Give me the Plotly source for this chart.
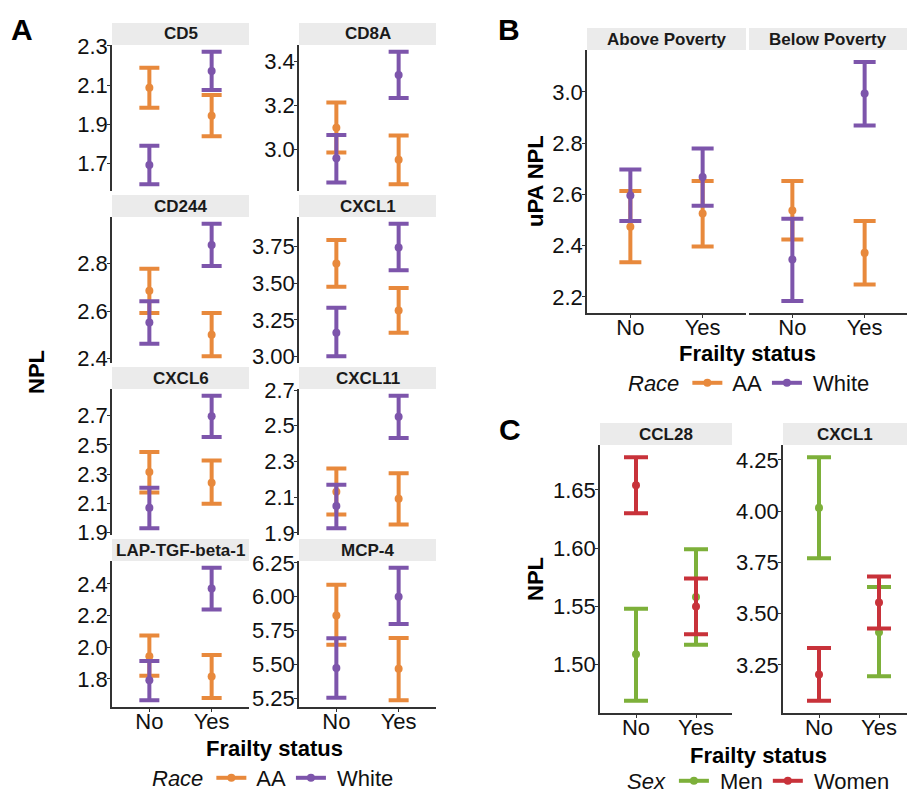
import plotly.graph_objects as go

# ---------------- DATA ----------------
frailty = ["No", "Yes"]

# Panel A : proteins by race (values for [No, Yes])
a_proteins = ["CD5", "CD8A", "CD244", "CXCL1", "CXCL6", "CXCL11", "LAP-TGF-beta-1", "MCP-4"]
a_aa_mean = [[2.086, 1.943], [3.099, 2.953], [2.685, 2.501], [3.635, 3.314],
             [2.314, 2.241], [2.130, 2.091], [1.943, 1.815], [5.861, 5.469]]
a_aa_low = [[1.984, 1.837], [2.986, 2.841], [2.592, 2.410], [3.477, 3.161],
            [2.175, 2.098], [2.003, 1.947], [1.821, 1.680], [5.646, 5.235]]
a_aa_high = [[2.189, 2.049], [3.214, 3.064], [2.778, 2.592], [3.796, 3.468],
             [2.452, 2.393], [2.260, 2.234], [2.074, 1.952], [6.089, 5.696]]
a_wh_mean = [[1.690, 2.172], [2.960, 3.339], [2.552, 2.877], [3.161, 3.745],
             [2.070, 2.695], [2.050, 2.550], [1.792, 2.371], [5.474, 6.000]]
a_wh_low = [[1.591, 2.074], [2.850, 3.235], [2.463, 2.789], [3.000, 3.589],
            [1.930, 2.554], [1.925, 2.432], [1.665, 2.238], [5.255, 5.798]]
a_wh_high = [[1.789, 2.271], [3.066, 3.446], [2.641, 2.967], [3.333, 3.908],
             [2.207, 2.836], [2.169, 2.669], [1.914, 2.503], [5.694, 6.215]]
a_ticks = [[1.7, 1.9, 2.1, 2.3], [3.0, 3.2, 3.4], [2.4, 2.6, 2.8], [3.00, 3.25, 3.50, 3.75],
           [1.9, 2.1, 2.3, 2.5, 2.7], [1.9, 2.1, 2.3, 2.5, 2.7], [1.8, 2.0, 2.2, 2.4],
           [5.25, 5.50, 5.75, 6.00, 6.25]]
a_tickfmt = [".1f", ".1f", ".1f", ".2f", ".1f", ".1f", ".1f", ".2f"]

# Panel B : uPA by poverty status
b_poverty = ["Above Poverty", "Below Poverty"]
b_aa_mean = [[2.474, 2.526], [2.537, 2.372]]
b_aa_low = [[2.335, 2.397], [2.424, 2.249]]
b_aa_high = [[2.613, 2.652], [2.652, 2.496]]
b_wh_mean = [[2.596, 2.668], [2.346, 2.994]]
b_wh_low = [[2.496, 2.556], [2.184, 2.869]]
b_wh_high = [[2.697, 2.779], [2.505, 3.117]]
b_ticks = [2.2, 2.4, 2.6, 2.8, 3.0]

# Panel C : proteins by sex
c_proteins = ["CCL28", "CXCL1"]
c_men_mean = [[1.509, 1.558], [4.016, 3.409]]
c_men_low = [[1.469, 1.517], [3.770, 3.195]]
c_men_high = [[1.548, 1.599], [4.263, 3.630]]
c_wo_mean = [[1.654, 1.550], [3.203, 3.555]]
c_wo_low = [[1.630, 1.526], [3.075, 3.428]]
c_wo_high = [[1.678, 1.574], [3.333, 3.681]]
c_ticks = [[1.50, 1.55, 1.60, 1.65], [3.25, 3.50, 3.75, 4.00, 4.25]]

# ---------------- STYLE ----------------
W, H = 907, 793
ORANGE = "#E8893C"
PURPLE = "#7D55AB"
GREEN = "#7DB03A"
RED = "#C8323A"
STRIP = "#EBEBEB"
AXC = "#333333"
FONT = "Liberation Sans, Arial, sans-serif"
FS = 22


def px(x):
    return x / W


def py(y):
    return 1 - y / H


fig = go.Figure()
layout = {}
shapes = []
annotations = []


def add_panel(idx, xpix, ypix, yvals_all, ticks, fmt, title, show_x, xrange_=(-0.6, 1.6),
              series=(), capw=10):
    xa = "xaxis" if idx == 1 else f"xaxis{idx}"
    ya = "yaxis" if idx == 1 else f"yaxis{idx}"
    xr = "x" if idx == 1 else f"x{idx}"
    yr = "y" if idx == 1 else f"y{idx}"
    lo = min(yvals_all)
    hi = max(yvals_all)
    pad = (hi - lo) * 0.05
    layout[xa] = dict(domain=[px(xpix[0]), px(xpix[1])], anchor=yr, type="category",
                      categoryorder="array", categoryarray=frailty,
                      range=list(xrange_), showgrid=False, zeroline=False,
                      showline=show_x, linecolor=AXC, linewidth=1.6,
                      ticks="outside" if show_x else "", ticklen=3, tickcolor=AXC,
                      ticklabelstandoff=-9,
                      showticklabels=show_x, fixedrange=True,
                      tickfont=dict(family=FONT, size=FS, color="#111111"))
    layout[ya] = dict(domain=[py(ypix[1]), py(ypix[0])], anchor=xr,
                      range=[lo - pad, hi + pad], showgrid=False, zeroline=False,
                      showline=True, linecolor=AXC, linewidth=1.6,
                      ticks="outside", ticklen=3, tickcolor=AXC,
                      ticklabelstandoff=-5,
                      tickvals=ticks, ticktext=[format(t, fmt) for t in ticks],
                      tickfont=dict(family=FONT, size=FS, color="#111111"))
    # strip
    shapes.append(dict(type="rect", xref="paper", yref="paper",
                       x0=px(xpix[0]), x1=px(xpix[1]), y0=py(ypix[0]), y1=py(ypix[0] - 22),
                       fillcolor=STRIP, line=dict(width=0), layer="below"))
    annotations.append(dict(text=f"<b>{title}</b>", xref="paper", yref="paper",
                            x=px((xpix[0] + min(xpix[1], W + 10)) / 2), y=py(ypix[0] - 11),
                            showarrow=False, xanchor="center", yanchor="middle",
                            font=dict(family=FONT, size=17, color="#1a1a1a")))
    for mean, low, high, color in series:
        fig.add_trace(go.Scatter(
            x=frailty, y=mean, mode="markers", xaxis=xr, yaxis=yr,
            marker=dict(color=color, size=8),
            error_y=dict(type="data", symmetric=False,
                         array=[h - m for h, m in zip(high, mean)],
                         arrayminus=[m - l for m, l in zip(mean, low)],
                         color=color, thickness=4, width=capw),
            showlegend=False, hoverinfo="skip"))


# Panel A
a_cols = [(112, 249), (299, 436)]
a_rows = [(45, 191), (217, 363), (389, 535), (561, 707)]
for i, name in enumerate(a_proteins):
    r, c = divmod(i, 2)
    allv = a_aa_low[i] + a_aa_high[i] + a_wh_low[i] + a_wh_high[i]
    add_panel(i + 1, a_cols[c], a_rows[r], allv, a_ticks[i], a_tickfmt[i], name, r == 3,
              series=[(a_aa_mean[i], a_aa_low[i], a_aa_high[i], ORANGE),
                      (a_wh_mean[i], a_wh_low[i], a_wh_high[i], PURPLE)], capw=10)

# Panel B (shared y)
b_all = sum(b_aa_low + b_aa_high + b_wh_low + b_wh_high, [])
b_cols = [(587, 746), (749, 907)]
b_unit = (746 - 587) / 2.2
for j, name in enumerate(b_poverty):
    xr_ = (-0.6, 1.6) if j == 0 else (-0.6, -0.6 + (907 - 749) / b_unit)
    add_panel(9 + j, b_cols[j], (50, 313), b_all, b_ticks, ".1f", name, True, xr_,
              series=[(b_aa_mean[j], b_aa_low[j], b_aa_high[j], ORANGE),
                      (b_wh_mean[j], b_wh_low[j], b_wh_high[j], PURPLE)], capw=11)
layout["yaxis10"]["showticklabels"] = False
layout["yaxis10"]["ticks"] = ""
layout["yaxis10"]["showline"] = False

# Panel C
c_cols = [(600, 732), (783, 907)]
c_unit = (732 - 600) / 2.2
for j, name in enumerate(c_proteins):
    allv = c_men_low[j] + c_men_high[j] + c_wo_low[j] + c_wo_high[j]
    xr_ = (-0.6, 1.6) if j == 0 else (-0.6, -0.6 + (907 - 783) / c_unit)
    add_panel(11 + j, c_cols[j], (445, 713), allv, c_ticks[j], ".2f", name, True, xr_,
              series=[(c_men_mean[j], c_men_low[j], c_men_high[j], GREEN),
                      (c_wo_mean[j], c_wo_low[j], c_wo_high[j], RED)], capw=12)


# legend key traces
def legend_key(name, color, legend):
    fig.add_trace(go.Scatter(x=[None], y=[None], mode="lines+markers", name=" " + name,
                             line=dict(color=color, width=4), marker=dict(color=color, size=8),
                             legend=legend, showlegend=True, xaxis="x", yaxis="y"))


legend_key("AA", ORANGE, "legend")
legend_key("White", PURPLE, "legend")
legend_key("AA", ORANGE, "legend2")
legend_key("White", PURPLE, "legend2")
legend_key("Men", GREEN, "legend3")
legend_key("Women", RED, "legend3")

leg_common = dict(orientation="h", xanchor="left", yanchor="middle",
                  bgcolor="rgba(0,0,0,0)", font=dict(family=FONT, size=FS, color="#111111"),
                  itemclick=False, itemdoubleclick=False)
layout["legend"] = dict(x=px(150), y=py(778),
                        title=dict(text="<i>Race</i>", side="left",
                                   font=dict(family=FONT, size=FS, color="#111111")), **leg_common)
layout["legend2"] = dict(x=px(626), y=py(383),
                         title=dict(text="<i>Race</i>", side="left",
                                    font=dict(family=FONT, size=FS, color="#111111")), **leg_common)
layout["legend3"] = dict(x=px(625), y=py(781),
                         title=dict(text="<i>Sex</i>", side="left",
                                    font=dict(family=FONT, size=FS, color="#111111")), **leg_common)


# axis titles
def text(t, x, y, size=FS, angle=0, bold=True):
    annotations.append(dict(text=f"<b>{t}</b>" if bold else t, xref="paper", yref="paper",
                            x=px(x), y=py(y), showarrow=False, xanchor="center",
                            yanchor="middle", textangle=angle,
                            font=dict(family=FONT, size=size, color="#000000")))


text("Frailty status", 274, 748)
text("Frailty status", 747, 353)
text("Frailty status", 758, 755)
text("NPL", 36, 372, angle=-90)
text("uPA NPL", 535, 181, angle=-90)
text("NPL", 535, 579, angle=-90)
text("A", 22, 30, size=30)
text("B", 509, 29, size=30)
text("C", 510, 429, size=30)

fig.update_layout(width=W, height=H,
                  margin=dict(l=0, r=0, t=0, b=0, pad=0, autoexpand=False),
                  paper_bgcolor="white", plot_bgcolor="white",
                  shapes=shapes, annotations=annotations, **layout)
fig.write_html("out.html")
